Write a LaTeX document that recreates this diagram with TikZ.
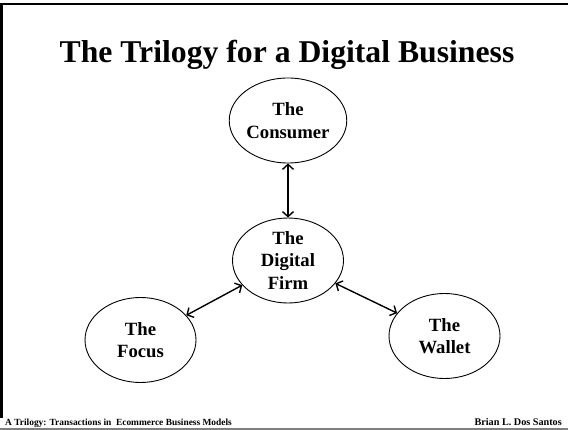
\documentclass[tikz,border=0pt]{standalone}
\usepackage{fontspec}
\setmainfont{Liberation Serif}
\usetikzlibrary{shapes.geometric,arrows.meta}
\begin{document}
\begin{tikzpicture}[x=1pt,y=-1pt,
  blob/.style={ellipse,draw,line width=0.9pt,minimum width=111pt,minimum height=85pt,
    inner sep=0pt,align=center,font=\fontsize{18.7}{22.5}\selectfont\bfseries},
  link/.style={line width=1.4pt,
    {Straight Barb[length=5pt,width=11pt]}-{Straight Barb[length=5pt,width=11pt]}},
  foot/.style={inner sep=0pt,anchor=base}]
  \useasboundingbox (0,0) rectangle (568,430);
  % slide frame
  \draw[line width=2pt] (0,4.5) -- (568,4.5);
  \draw[line width=2.5pt] (1.5,3.5) -- (1.5,418);
  \draw[line width=1.5pt,gray] (0,429) -- (568,429);
  % title
  \node[inner sep=0pt,anchor=base,font=\fontsize{31.7}{38}\selectfont\bfseries]
    (title) at (287,63) {The Trilogy for a Digital Business};
  % the four parties
  \node[blob] (consumer) at (288,120.5) {The\\Consumer};
  \node[blob] (firm) at (288,260.5) {The\\Digital\\Firm};
  \node[blob] (focus) at (140.5,340) {The\\Focus};
  \node[blob] (wallet) at (444.5,336) {The\\Wallet};
  % links
  \draw[link] (consumer) -- (firm);
  \draw[link] (focus) -- (firm);
  \draw[link] (firm) -- (wallet);
  % footer
  \node[foot,anchor=base west,font=\fontsize{9.4}{11}\selectfont\bfseries] (lfoot) at (5,425.5)
    {A Trilogy: Transactions in\ \ Ecommerce Business Models};
  \node[foot,anchor=base east,font=\fontsize{10.2}{12}\selectfont\bfseries] (rfoot) at (562,425)
    {Brian L. Dos Santos};
\end{tikzpicture}
\end{document}
